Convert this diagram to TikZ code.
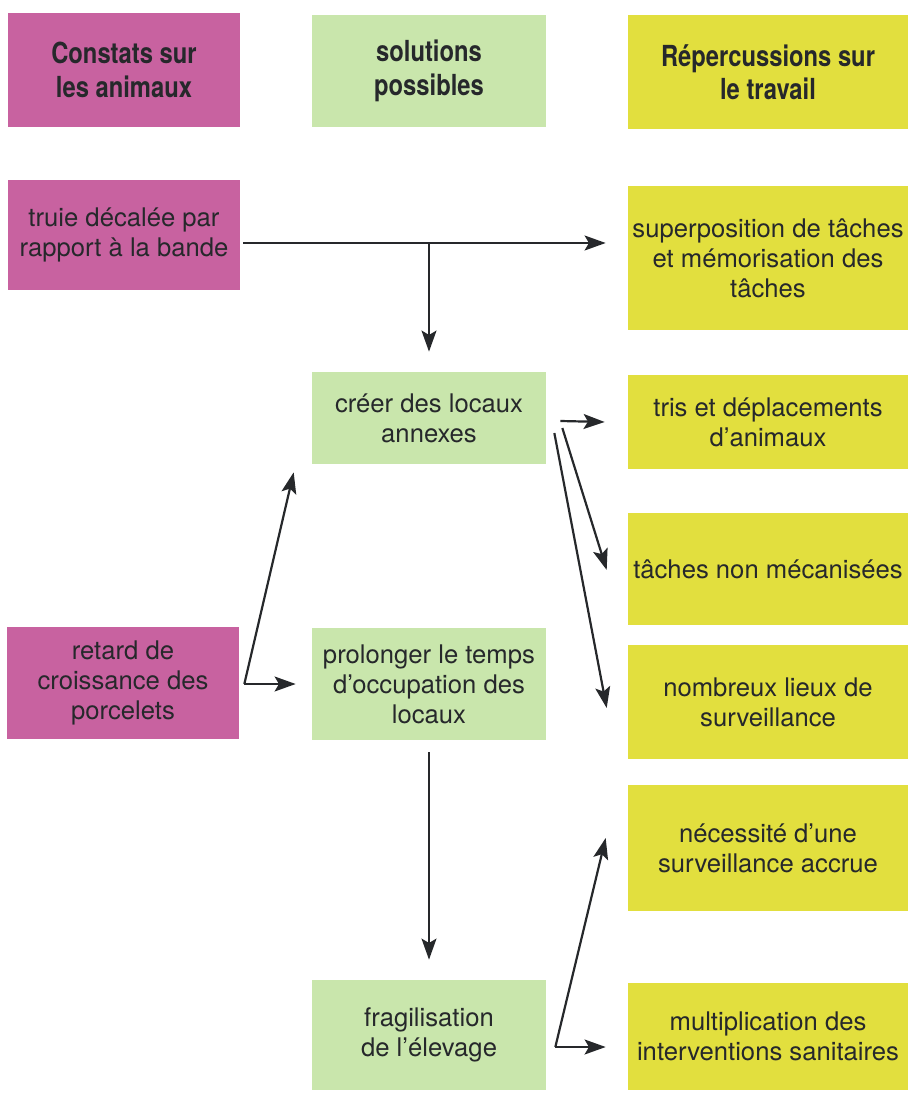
\documentclass[tikz,border=0pt]{standalone}
\usepackage{fontspec}
\setmainfont{TeX Gyre Heros}
\newfontfamily\headfont[FakeStretch=0.82]{TeX Gyre Heros}
\usepackage{tikz}
\usetikzlibrary{arrows.meta,calc}
\definecolor{PigPink}{HTML}{C862A0}
\definecolor{SoftGreen}{HTML}{C9E6AC}
\definecolor{StrawYellow}{HTML}{E2DF3E}
\definecolor{InkGray}{HTML}{26282B}

\begin{document}
\begin{tikzpicture}[
  x=0.02cm,y=-0.02cm,
  box/.style={align=center,inner sep=0pt,text=InkGray,
    font=\fontsize{14.6}{17}\selectfont},
  head/.style={box,font=\headfont\bfseries\fontsize{16.5}{19}\selectfont},
  animal/.style={fill=PigPink,minimum width=4.64cm},
  solution/.style={fill=SoftGreen,minimum width=4.68cm},
  work/.style={fill=StrawYellow,minimum width=5.6cm},
  arr/.style={-{Stealth[length=12pt,width=8.5pt,inset=2.5pt]},line width=1.25pt,InkGray}
]
  \useasboundingbox (0,0) rectangle (908,1094);
  % column titles
  \node[head,animal,minimum height=2.3cm] (hanim) at (124,70) {Constats sur\\les animaux};
  \node[head,solution,minimum height=2.24cm] (hsol) at (429,71) {solutions\\possibles};
  \node[head,work,minimum height=2.3cm] (hwork) at (768,72) {Répercussions sur\\le travail};
  % constats
  \node[box,animal,minimum height=2.2cm] (truie) at (124,235) {truie décalée par\\rapport à la bande};
  \node[box,animal,minimum height=2.24cm] (retard) at (123,683) {retard de\\croissance des\\porcelets};
  % solutions
  \node[box,solution,minimum height=1.84cm] (creer) at (429,418) {créer des locaux\\annexes};
  \node[box,solution,minimum height=2.24cm] (prolong) at (429,684) {prolonger le temps\\d’occupation des\\locaux};
  \node[box,solution,minimum height=2.2cm] (fragil) at (429,1035) {fragilisation\\de l’élevage};
  % repercussions
  \node[box,work,minimum height=2.9cm] (superpos) at (768,258) {superposition de tâches\\et mémorisation des\\tâches};
  \node[box,work,minimum height=1.9cm] (tris) at (768,422) {tris et déplacements\\d’animaux};
  \node[box,work,minimum height=2.24cm] (taches) at (768,569) {tâches non mécanisées};
  \node[box,work,minimum height=2.28cm] (lieux) at (768,702) {nombreux lieux de\\surveillance};
  \node[box,work,minimum height=2.54cm] (surv) at (768,848) {nécessité d’une\\surveillance accrue};
  \node[box,work,minimum height=2.14cm] (interv) at (768,1036) {multiplication des\\interventions sanitaires};
  % arrows
  \coordinate (split) at ($(creer.north |- truie.east)+(0,8)$);
  \draw[arr] ($(truie.east)+(3,8)$) -- ($(superpos.west |- truie.east)+(-22,8)$);
  \draw[arr] (split) -- ($(creer.north)+(0,-20)$);
  \coordinate (rfork) at ($(retard.east)+(5,1)$);
  \draw[arr] (rfork) -- ($(creer.south west)+(-18,8)$);
  \draw[arr] (rfork) -- ($(prolong.west |- rfork)+(-16,0)$);
  \draw[arr] ($(creer.east)+(14,3)$) -- ($(tris.west)+(-23,0)$);
  \draw[arr] ($(creer.east)+(16,10)$) -- ($(taches.west)+(-21,1)$);
  \draw[arr] ($(creer.east)+(8,15)$) -- ($(lieux.west)+(-21,6)$);
  \draw[arr] ($(prolong.south)+(0,12)$) -- ($(fragil.north)+(0,-20)$);
  \coordinate (ffork) at ($(fragil.east)+(9,12)$);
  \draw[arr] (ffork) -- ($(surv.west)+(-22,-10)$);
  \draw[arr] (ffork) -- ($(interv.west |- ffork)+(-22,0)$);
\end{tikzpicture}
\end{document}
